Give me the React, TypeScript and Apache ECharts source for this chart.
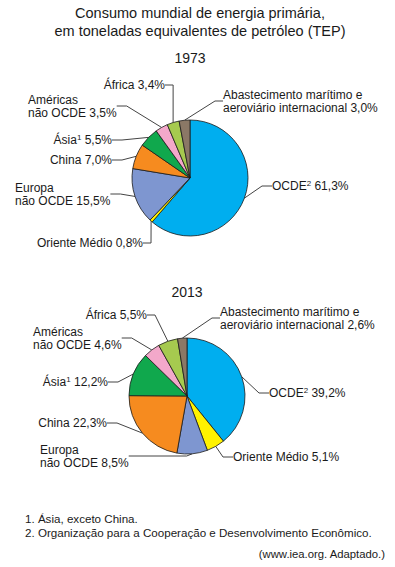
import React, { useEffect, useRef } from 'react';
import * as echarts from 'echarts';

// ---- data ----
const categories = [
  'OCDE',
  'Oriente Médio',
  'Europa não OCDE',
  'China',
  'Ásia',
  'Américas não OCDE',
  'África',
  'Abastecimento marítimo e aeroviário internacional',
];
const values1973 = [61.3, 0.8, 15.5, 7.0, 5.5, 3.5, 3.4, 3.0];
const values2013 = [39.2, 5.1, 8.5, 22.3, 12.2, 4.6, 5.5, 2.6];
const years = ['1973', '2013'];
const labelTemplates = [
  'OCDE{sup|2} {v}',
  'Oriente Médio {v}',
  'Europa\nnão OCDE {v}',
  'China {v}',
  'Ásia{sup|1} {v}',
  'Américas\nnão OCDE {v}',
  'África {v}',
  'Abastecimento marítimo e\naeroviário internacional {v}',
];
const titleText = 'Consumo mundial de energia primária,\nem toneladas equivalentes de petróleo (TEP)';
const footnotes = ['1. Ásia, exceto China.', '2. Organização para a Cooperação e Desenvolvimento Econômico.'];
const sourceText = '(www.iea.org. Adaptado.)';

// ---- styling / layout ----
const colors = ['#00AEEF', '#FFF200', '#7E96D0', '#F68B1F', '#10A84D', '#F3A8CA', '#A6CA4F', '#8B7866'];
const FONT = '"Liberation Sans", Arial, sans-serif';
const pieCenters = [[190, 178], [187, 396]];
const yearPos = [[190, 58], [187, 292]];
const pieRadius = 58;
const labelPos: [number, number, string][][] = [
  [[272, 186, 'left'], [143, 243, 'right'], [15, 194, 'left'], [112, 160, 'right'], [112, 140, 'right'], [28, 106, 'left'], [165, 85, 'right'], [223, 101, 'left']],
  [[269, 393, 'left'], [233, 457, 'left'], [40, 456, 'left'], [107, 423, 'right'], [108, 382, 'right'], [33, 338, 'left'], [147, 315, 'right'], [220, 318, 'left']],
];
const leaderLen2 = [
  [10, 8, 10, 10, 10, 10, 10, 8],
  [10, 10, 58, 10, 10, 10, 8, 8],
];

const fmt = (v: number) => v.toFixed(1).replace('.', ',') + '%';

export default function App() {
  const ref = useRef<HTMLDivElement>(null);
  useEffect(() => {
    const chart = echarts.init(ref.current!, null, { renderer: 'svg' });
    const series = [values1973, values2013].map((vals, s) => ({
      type: 'pie',
      center: pieCenters[s],
      radius: pieRadius,
      startAngle: 90,
      clockwise: true,
      avoidLabelOverlap: false,
      silent: true,
      data: categories.map((c, i) => ({
        name: c,
        value: vals[i],
        itemStyle: { color: colors[i] },
        labelLine: { length2: leaderLen2[s][i] },
      })),
      itemStyle: { borderColor: '#1a1a1a', borderWidth: 0.8 },
      label: {
        show: true,
        position: 'outside',
        formatter: (p: any) => labelTemplates[p.dataIndex].replace('{v}', fmt(p.value)),
        color: '#1a1a1a',
        fontSize: 12,
        fontFamily: FONT,
        lineHeight: 13,
        rich: {
          sup: { fontSize: 8, fontFamily: FONT, color: '#1a1a1a', verticalAlign: 'top', lineHeight: 6 },
        },
      },
      labelLine: { show: true, length: 6, length2: 8, lineStyle: { color: '#444', width: 1 } },
      labelLayout: (p: any) => {
        const [x, y, align] = labelPos[s][p.dataIndex];
        return { x, y, align, verticalAlign: 'middle' };
      },
    }));

    const graphic: any[] = [
      {
        type: 'text',
        x: 200,
        y: 4,
        style: { text: titleText, fontSize: 14.5, fontFamily: FONT, fill: '#1a1a1a', align: 'center', lineHeight: 18 },
      },
      ...years.map((yr, s) => ({
        type: 'text',
        x: yearPos[s][0],
        y: yearPos[s][1],
        style: { text: yr, fontSize: 14, fontFamily: FONT, fill: '#1a1a1a', align: 'center', verticalAlign: 'middle' },
      })),
      ...footnotes.map((t, i) => ({
        type: 'text',
        x: 25,
        y: 518 + i * 14,
        style: { text: t, fontSize: 11.6, fontFamily: FONT, fill: '#1a1a1a', align: 'left', verticalAlign: 'middle' },
      })),
      {
        type: 'text',
        x: 385,
        y: 554,
        style: { text: sourceText, fontSize: 11.3, fontFamily: FONT, fill: '#1a1a1a', align: 'right', verticalAlign: 'middle' },
      },
    ];

    chart.setOption({ animation: false, backgroundColor: '#ffffff', series, graphic });
    return () => chart.dispose();
  }, []);
  return <div ref={ref} style={{ position: 'fixed', left: 0, top: 0, width: 395, height: 567 }} />;
}
